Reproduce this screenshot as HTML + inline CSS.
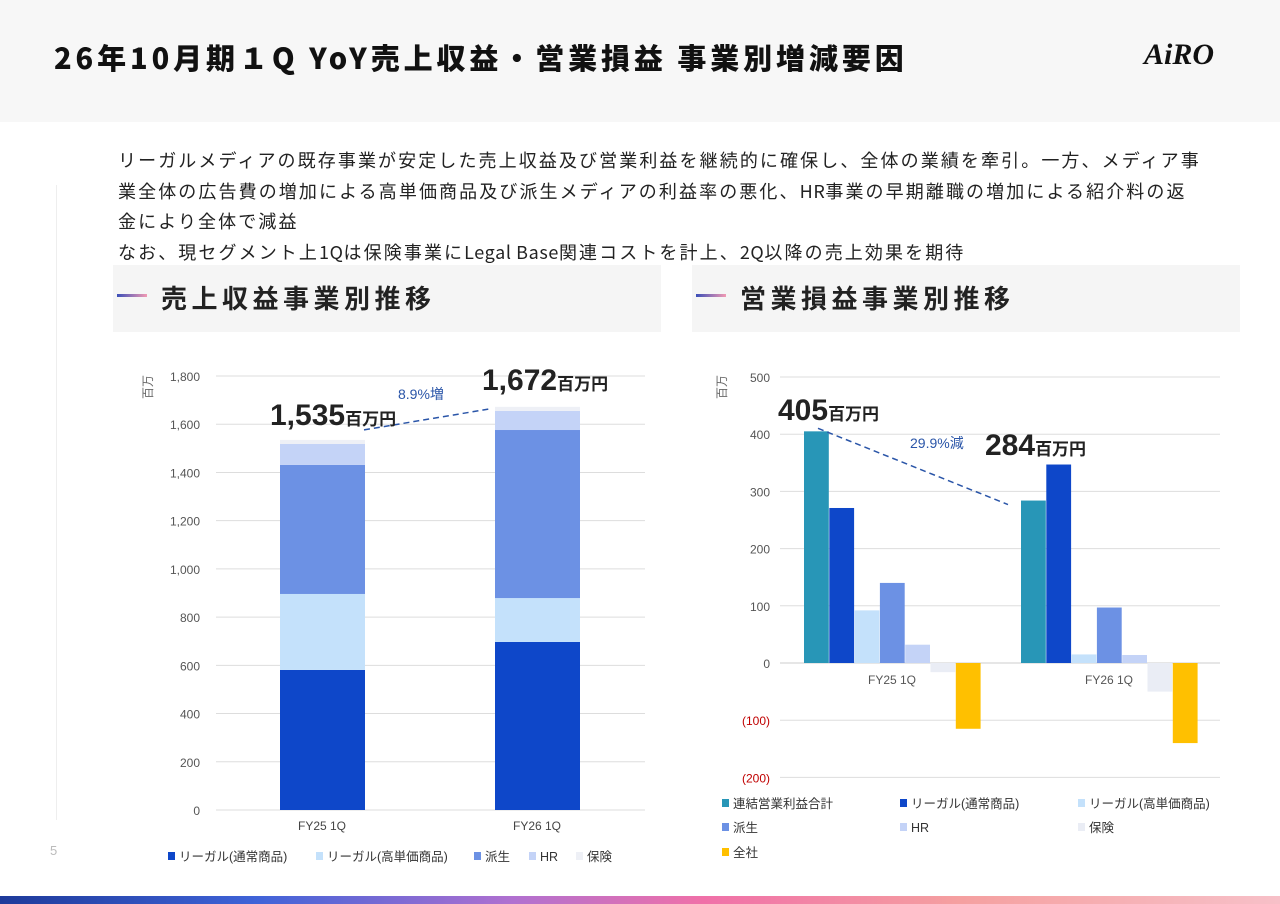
<!DOCTYPE html>
<html><head><meta charset="utf-8">
<style>
body{margin:0;width:1280px;height:904px;background:#fff;position:relative;overflow:hidden;font-family:"Liberation Sans","Noto Sans CJK JP",sans-serif;}
.hdr{position:absolute;left:0;top:0;width:1280px;height:122px;background:#f7f7f7;}
.title{position:absolute;left:54px;top:36px;font-size:29px;font-weight:900;color:#111;letter-spacing:3.9px;white-space:nowrap;font-family:"Noto Sans CJK JP",sans-serif;}
.logo{position:absolute;left:1144px;top:38px;font-size:30px;font-weight:bold;font-style:italic;color:#111;font-family:"Liberation Serif",serif;}
.desc{position:absolute;left:118px;top:145px;width:1150px;font-size:18px;line-height:30.5px;color:#222;white-space:nowrap;letter-spacing:2.1px;font-family:"Noto Sans CJK JP",sans-serif;}
.desc .l{letter-spacing:0.6px;}
.sec{position:absolute;top:265px;height:67px;background:#f5f5f5;}
.sec span.bar{position:absolute;left:4px;top:29px;width:30px;height:3px;background:linear-gradient(90deg,#3b4fb8,#f29ab3);}
.sec span.t{position:absolute;left:48px;top:14px;font-size:26px;font-weight:bold;letter-spacing:4.5px;color:#222;font-family:"Noto Sans CJK JP",sans-serif;}
.foot{position:absolute;left:0;top:896px;width:1280px;height:8px;background:linear-gradient(90deg,#1e3a9a,#3f63d8 20%,#b070d0 40%,#f070a8 55%,#f5a0a0 75%,#f7c0c8);}
svg text{font-family:"Liberation Sans","Noto Sans CJK JP",sans-serif;}
</style></head><body>
<div class="hdr"></div>
<div class="title">26年10月期１Q YoY売上収益・営業損益 事業別増減要因</div>
<div class="logo">AiRO</div>
<div class="desc">リーガルメディアの既存事業が安定した売上収益及び営業利益を継続的に確保し、全体の業績を牽引。一方、メディア事<br>業全体の広告費の増加による高単価商品及び派生メディアの利益率の悪化、<span class="l">HR</span>事業の早期離職の増加による紹介料の返<br>金により全体で減益<br>なお、現セグメント上<span class="l">1Q</span>は保険事業に<span class="l">Legal Base</span>関連コストを計上、<span class="l">2Q</span>以降の売上効果を期待</div>
<div class="sec" style="left:113px;width:548px"><span class="bar"></span><span class="t">売上収益事業別推移</span></div>
<div class="sec" style="left:692px;width:548px"><span class="bar"></span><span class="t">営業損益事業別推移</span></div>
<div style="position:absolute;left:56px;top:185px;width:1px;height:635px;background:#eee"></div>
<div style="position:absolute;left:50px;top:843px;font-size:13px;color:#bbb">5</div>
<svg id="chart" width="1280" height="904" style="position:absolute;left:0;top:0"></svg>
<div class="foot"></div>
<script>
const periods=["FY25 1Q","FY26 1Q"];
const revSeries=["リーガル(通常商品)","リーガル(高単価商品)","派生","HR","保険"];
const revColors=["#0e47c9","#c4e1fb","#6c91e4","#c4d3f7","#eef0f6"];
const revFY25=[581,315,535,87,17];
const revFY26=[697,182,697,79,17];
const revTicks=[0,200,400,600,800,1000,1200,1400,1600,1800];
const revTotals=["1,535","1,672"];
const opSeries=["連結営業利益合計","リーガル(通常商品)","リーガル(高単価商品)","派生","HR","保険","全社"];
const opColors=["#2896b7","#0e47c9","#c4e1fb","#6c91e4","#c4d3f7","#eaedf5","#ffc000"];
const opFY25=[405,271,92,140,32,-16,-115];
const opFY26=[284,347,15,97,14,-50,-140];
const opTicks=[-200,-100,0,100,200,300,400,500];
const opTotals=["405","284"];
const NS="http://www.w3.org/2000/svg";
const svg=document.getElementById('chart');
function mk(tag,attrs,txt){const e=document.createElementNS(NS,tag);for(const k in attrs)e.setAttribute(k,attrs[k]);if(txt!==undefined)e.textContent=txt;svg.appendChild(e);return e;}
const ry=v=>810-v*(434/1800);
revTicks.forEach(t=>{
 const l=mk('line',{x1:216,x2:645,y1:ry(t),y2:ry(t),stroke:'#ddd','stroke-width':1});
 
 
 const tx=mk('text',{x:200,y:ry(t)+5,'text-anchor':'end','font-size':12,fill:'#555'},t.toLocaleString('en-US'));
 
 
});
const revX=[280,495];
[revFY25,revFY26].forEach((vals,pi)=>{
 let cum=0;
 vals.forEach((v,si)=>{
  const r=mk('rect',{x:revX[pi],y:ry(cum+v),width:85,height:ry(cum)-ry(cum+v),fill:revColors[si]});
  
  
  cum+=v;
 });
 const tx=mk('text',{x:revX[pi]+42,y:830,'text-anchor':'middle','font-size':12,fill:'#444'},periods[pi]);
 
 
});
const rt1=revFY25.reduce((a,b)=>a+b,0),rt2=revFY26.reduce((a,b)=>a+b,0);
let e=mk('text',{x:141,y:398,'font-size':12,fill:'#666',transform:'rotate(-90 147 393)'},'百万');

e=mk('line',{x1:364,y1:ry(rt1)-10,x2:490,y2:ry(rt2)+2,stroke:'#2a55a8','stroke-width':1.5,'stroke-dasharray':'6 4'});

e=mk('text',{x:398,y:399,'font-size':14,fill:'#2a55a8'},'8.9%増');

[[270,ry(rt1)-15,0],[482,ry(rt2)-17,1]].forEach(([x,y,i])=>{
 const t=mk('text',{x:x,y:y,'font-size':30,'font-weight':'bold',fill:'#222'});
 t.innerHTML=revTotals[i]+'<tspan font-size="17">百万円</tspan>';
 
 
});
const lx=[168,316,474,529,576];
revSeries.forEach((s,i)=>{
 const r=mk('rect',{x:lx[i],y:852,width:7,height:8,fill:revColors[i]});
 
 
 const t=mk('text',{x:lx[i]+11,y:861,'font-size':12.5,fill:'#333'},s);
 
 
});
const oy=v=>663-v*(286/500);
opTicks.forEach(t=>{
 const l=mk('line',{x1:780,x2:1220,y1:oy(t),y2:oy(t),stroke:t===0?'#ccc':'#ddd','stroke-width':1});
 
 
 const tx=mk('text',{x:770,y:oy(t)+5,'text-anchor':'end','font-size':12,fill:t<0?'#c00000':'#555'},t<0?'('+(-t)+')':String(t));
 
 
});
const opX=[804,1021],bw=25.3;
[opFY25,opFY26].forEach((vals,pi)=>{
 vals.forEach((v,si)=>{
  const y0=oy(Math.max(v,0)),y1=oy(Math.min(v,0));
  const r=mk('rect',{x:opX[pi]+si*bw,y:y0,width:bw-0.5,height:y1-y0,fill:opColors[si]});
  
  
 });
 const tx=mk('text',{x:opX[pi]+88,y:684,'text-anchor':'middle','font-size':12,fill:'#555'},periods[pi]);
 
 
});
e=mk('text',{x:715,y:398,'font-size':12,fill:'#666',transform:'rotate(-90 721 393)'},'百万');

e=mk('line',{x1:818,y1:oy(opFY25[0])-3,x2:1008,y2:oy(opFY26[0])+4,stroke:'#2a55a8','stroke-width':1.5,'stroke-dasharray':'6 4'});

e=mk('text',{x:910,y:448,'font-size':14,fill:'#2a55a8'},'29.9%減');

[[778,420,0],[985,455,1]].forEach(([x,y,i])=>{
 const t=mk('text',{x:x,y:y,'font-size':30,'font-weight':'bold',fill:'#222'});
 t.innerHTML=opTotals[i]+'<tspan font-size="17">百万円</tspan>';
 
 
});
const olx=[722,900,1078],oly=[808,832,857];
opSeries.forEach((s,i)=>{
 const x=olx[i%3],y=oly[Math.floor(i/3)];
 const r=mk('rect',{x:x,y:y-9,width:7,height:8,fill:opColors[i]});
 
 
 const t=mk('text',{x:x+11,y:y,'font-size':12.5,fill:'#333'},s);
 
 
});
</script>
</body></html>
